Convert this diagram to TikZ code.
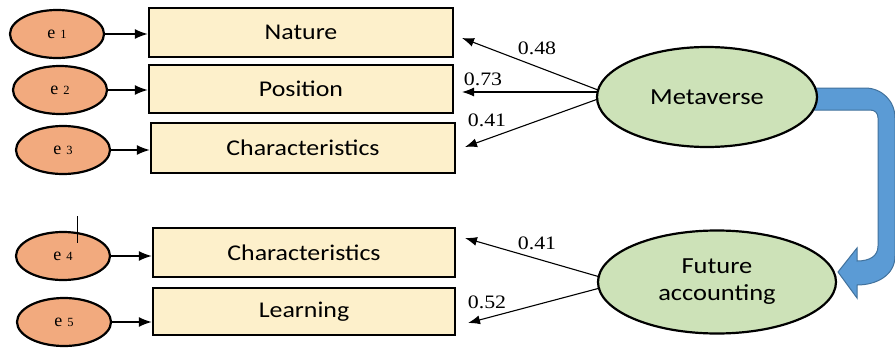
\documentclass[tikz,border=0pt]{standalone}
\usepackage{fontspec}
\setmainfont{Liberation Serif}
\newfontfamily\calfont{Carlito}[FakeStretch=1.15]
\newfontfamily\numfont{Liberation Serif}[FakeStretch=1.15]
\usetikzlibrary{arrows.meta,shapes.geometric,calc}
\definecolor{errfill}{HTML}{F2AA7E}
\definecolor{boxfill}{HTML}{FDF0CB}
\definecolor{latfill}{HTML}{CDE2B8}
\definecolor{bluefill}{HTML}{5B9BD5}
\definecolor{blueline}{HTML}{41719C}
\begin{document}
\begin{tikzpicture}[x=1pt,y=-1pt,
  errnode/.style={ellipse,draw=black,line width=2.2pt,fill=errfill,minimum width=94pt,minimum height=48pt,inner sep=0pt},
  obsbox/.style={rectangle,draw=black,line width=2.5pt,fill=boxfill,inner sep=0pt,font=\calfont\fontsize{22.5}{26}\selectfont},
  latnode/.style={ellipse,draw=black,line width=2.2pt,fill=latfill,inner sep=0pt,align=center,font=\calfont\fontsize{23}{27}\selectfont},
  arr/.style={line width=1.3pt,-{Latex[length=13pt,width=10pt]}},
  larr/.style={line width=1.1pt,-{Latex[length=12pt,width=9pt]}},
  coef/.style={font=\numfont\fontsize{19}{22}\selectfont,inner sep=0pt}]
\useasboundingbox (0,0) rectangle (895,351);
\newcommand{\elab}[1]{{\fontsize{18}{20}\selectfont e}\hspace{5pt}{\fontsize{12.5}{14}\selectfont #1}}
% blue U-turn arrow
\path[fill=bluefill,draw=blueline,line width=1pt]
  (800,88) -- (865,88) .. controls (882,88) and (895,101) .. (895,118)
  -- (895,256) .. controls (895,275) and (877,285) .. (857,285)
  -- (857,298) -- (838,272) -- (857,248) -- (857,261)
  .. controls (870,261) and (878,256) .. (878,246)
  -- (878,118) .. controls (878,113) and (875,110) .. (870,110)
  -- (800,110) -- cycle;
% observed boxes
\node[obsbox,minimum width=304pt,minimum height=49pt] (nat) at (301,32.5) {Nature};
\node[obsbox,minimum width=304pt,minimum height=48pt] (pos) at (301,89) {Position};
\node[obsbox,minimum width=304pt,minimum height=50pt] (ch1) at (303,148) {Characteristics};
\node[obsbox,minimum width=302pt,minimum height=49pt] (ch2) at (304,252.5) {Characteristics};
\node[obsbox,minimum width=302pt,minimum height=47pt] (lea) at (304,311.5) {Learning};
% error terms
\node[errnode] (e1) at (57,34) {\elab{1}};
\node[errnode] (e2) at (60,90) {\elab{2}};
\node[errnode] (e3) at (63,150) {\elab{3}};
\node[errnode] (e4) at (63,256) {\elab{4}};
\node[errnode] (e5) at (64,322) {\elab{5}};
\draw[line width=0.8pt] (77,216) -- (77,243);
\foreach \e/\b in {e1/nat,e2/pos,e3/ch1,e4/ch2,e5/lea}
  \draw[arr] (\e.east) -- (\e.east -| \b.west);
% latent variables
\node[latnode,minimum width=220pt,minimum height=100pt] (met) at (707,97) {Metaverse};
\node[latnode,minimum width=238pt,minimum height=103pt] (fut) at (717,282) {Future\\[0pt]accounting};
% loading arrows
\coordinate (m1) at (598,90);
\coordinate (m2) at (598,92);
\coordinate (m3) at (598,99);
\coordinate (t1) at (462,38);
\coordinate (t2) at (462,92);
\coordinate (t3) at (465,147);
\coordinate (f1) at (600,277);
\coordinate (f2) at (600,288);
\coordinate (t4) at (465,238);
\coordinate (t5) at (468,323);
\draw[larr] (m1) -- (t1);
\draw[larr] (m2) -- (t2);
\draw[larr] (m3) -- (t3);
\draw[larr] (f1) -- (t4);
\draw[larr] (f2) -- (t5);
\node[coef] (c1) at (537,48) {0.48};
\node[coef] (c2) at (483,79) {0.73};
\node[coef] (c3) at (487,120) {0.41};
\node[coef] (c4) at (537,243) {0.41};
\node[coef] (c5) at (487,302) {0.52};
\end{tikzpicture}
\end{document}
